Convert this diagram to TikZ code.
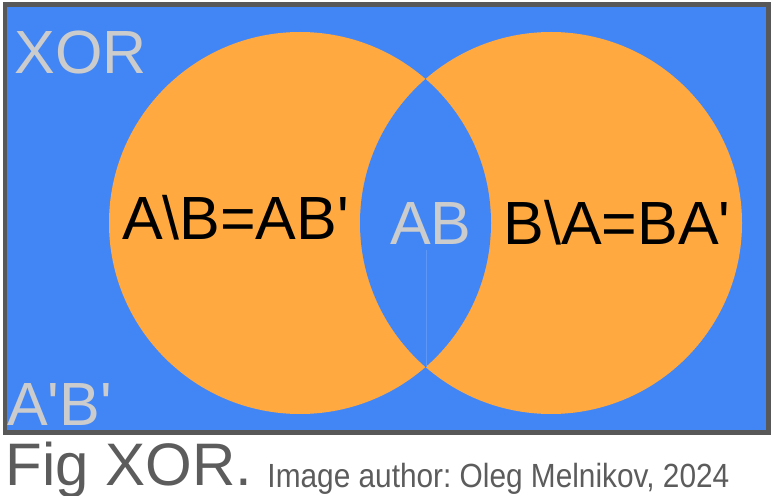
\documentclass[tikz,border=0pt]{standalone}
\usepackage{fontspec}
\setmainfont{Liberation Sans}
\newfontfamily\arial{Liberation Sans}
\definecolor{bgblue}{RGB}{66,134,245}
\definecolor{venn}{RGB}{255,169,64}
\definecolor{lightgray}{RGB}{204,204,204}
\definecolor{frame}{RGB}{88,88,88}
\definecolor{captiongray}{RGB}{92,92,92}
\newcommand{\bs}{\textbackslash}
\newcommand{\q}{\textquotesingle}
\tikzset{
  lbl/.style={anchor=base west, inner sep=0pt, outer sep=0pt, font=\arial\fontsize{61bp}{62bp}\selectfont},
  graylbl/.style={lbl, text=lightgray},
  blacklbl/.style={lbl, text=black},
}
\begin{document}
\frenchspacing
\begin{tikzpicture}[x=1bp,y=-1bp]
\useasboundingbox (0,0) rectangle (775,496);
% background
\fill[white] (0,0) rectangle (775,496);
\fill[bgblue] (5,4.5) rectangle (768.5,432.5);
% circles
\coordinate (cL) at (300,223);
\coordinate (cR) at (551,223);
\fill[venn] (cL) circle[radius=191];
\fill[venn] (cR) circle[radius=191];
\begin{scope}
  \clip (cL) circle[radius=191];
  \fill[bgblue] (cR) circle[radius=191];
\end{scope}
\coordinate (seamtop) at (426,250);
\coordinate (seambot) at (426,367);
\draw[bgblue!85!white, line width=0.6bp] (seamtop) -- (seambot);
% frame
\draw[frame, line width=4.5bp] (5,4.5) rectangle (768.5,432.5);
% labels
\node[graylbl] (xor) at (14.7,74) {XOR};
\node[graylbl] (ab0) at (7,425) {A\q B\q};
\node[blacklbl] (amb) at (122,240) {A\bs B=AB\q};
\node[graylbl] (ab) at (390,245) {AB};
\node[blacklbl] (bma) at (503.6,245) {B\bs A=BA\q};
% caption
\node[anchor=base west, inner sep=0pt, text=captiongray, font=\arial\fontsize{60bp}{62bp}\selectfont] (fig) at (5.2,485.5) {Fig XOR.};
\node[anchor=base west, inner sep=0pt, text=captiongray, font=\arial\fontsize{33.5bp}{35bp}\selectfont, xscale=0.89] (author) at (267.3,487) {Image author: Oleg Melnikov, 2024};
\end{tikzpicture}
\end{document}
